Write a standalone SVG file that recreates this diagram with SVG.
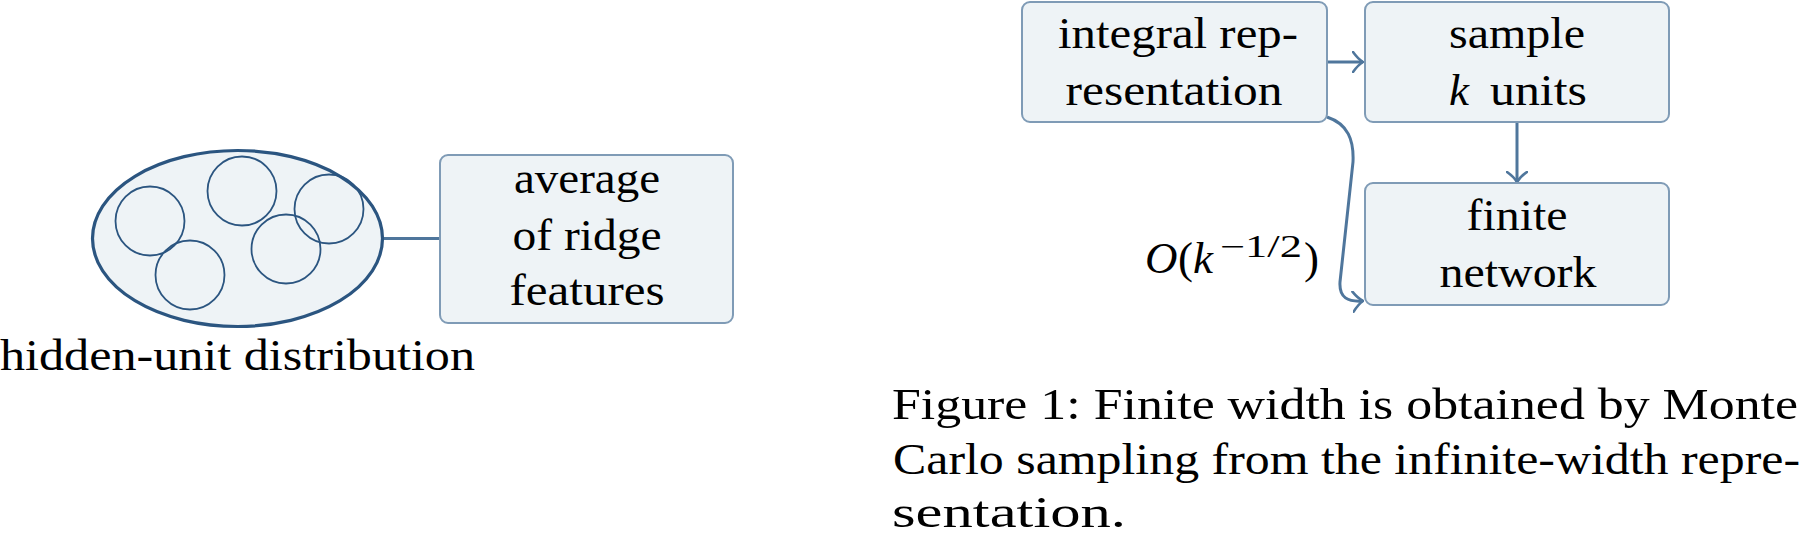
<svg xmlns="http://www.w3.org/2000/svg" width="1803" height="539" viewBox="0 0 1803 539">
<defs>
<style>
text{font-family:'Liberation Serif','DejaVu Serif',serif;font-size:45px;fill:#000}
.c{text-anchor:middle}
.box{fill:#eef3f6;stroke:#7f9bb6;stroke-width:2}
.unit{fill:none;stroke:#2b5580;stroke-width:1.8}
.edge{fill:none;stroke:#4f769c;stroke-width:3}
.it{font-style:italic}
.sup{font-size:31px}
</style>
<marker id="arr" viewBox="0 0 12 22" refX="11" refY="11" markerWidth="12" markerHeight="22" markerUnits="userSpaceOnUse" orient="auto">
<path d="M1,1 Q6,8 11,11 Q6,14 1,21" fill="none" stroke="#4f769c" stroke-width="2.6" stroke-linecap="round"/>
</marker>
</defs>
<rect width="1803" height="539" fill="#fff"/>
<g id="connectors">
<line class="edge" x1="383" y1="238.5" x2="440" y2="238.5"/>
<line class="edge" x1="1327" y1="62" x2="1363" y2="62" marker-end="url(#arr)"/>
<line class="edge" x1="1517" y1="122" x2="1517" y2="182" marker-end="url(#arr)"/>
<path class="edge" d="M1327,117 C1348,124 1354,140 1353,162 L1340,282 C1339,298 1348,302 1363,301" marker-end="url(#arr)"/>
</g>
<g id="distribution">
<ellipse cx="237.5" cy="238.5" rx="145" ry="88" fill="#eef3f6" stroke="#2b5580" stroke-width="3.2"/>
<circle class="unit" cx="150" cy="221" r="34.5"/>
<circle class="unit" cx="242" cy="191" r="34.5"/>
<circle class="unit" cx="329" cy="209" r="34.5"/>
<circle class="unit" cx="286" cy="249" r="34.5"/>
<circle class="unit" cx="190" cy="275" r="34.5"/>
<text x="0" y="370" font-family="Liberation Serif, serif" textLength="475" lengthAdjust="spacingAndGlyphs">hidden-unit distribution</text>
</g>
<g id="average">
<rect class="box" x="440" y="155" width="293" height="168" rx="8"/>
<text class="c" x="587" y="193" textLength="146" lengthAdjust="spacingAndGlyphs">average</text>
<text class="c" x="587" y="250" textLength="149" lengthAdjust="spacingAndGlyphs">of ridge</text>
<text class="c" x="587" y="305" textLength="155" lengthAdjust="spacingAndGlyphs">features</text>
</g>
<g id="integral">
<rect class="box" x="1022" y="2" width="305" height="120" rx="8"/>
<text class="c" x="1178" y="48" textLength="240" lengthAdjust="spacingAndGlyphs">integral rep-</text>
<text class="c" x="1174" y="105" textLength="217" lengthAdjust="spacingAndGlyphs">resentation</text>
</g>
<g id="sample">
<rect class="box" x="1365" y="2" width="304" height="120" rx="8"/>
<text class="c" x="1517" y="48" textLength="136" lengthAdjust="spacingAndGlyphs">sample</text>
<text x="1449" y="105"><tspan class="it">k</tspan><tspan x="1490" textLength="97" lengthAdjust="spacingAndGlyphs">units</tspan></text>
</g>
<g id="finite">
<rect class="box" x="1365" y="183" width="304" height="122" rx="8"/>
<text class="c" x="1517" y="230" textLength="101" lengthAdjust="spacingAndGlyphs">finite</text>
<text class="c" x="1518" y="287" textLength="157" lengthAdjust="spacingAndGlyphs">network</text>
</g>
<g id="rate-label">
<text x="1145" y="273" class="it">O</text>
<text x="1178" y="273">(</text>
<text x="1193" y="273" class="it">k</text>
<text x="1220" y="257" class="sup" textLength="82" lengthAdjust="spacingAndGlyphs">−1/2</text>
<text x="1304" y="273">)</text>
</g>
<g id="caption">
<text x="892" y="419" textLength="906" lengthAdjust="spacingAndGlyphs">Figure 1: Finite width is obtained by Monte</text>
<text x="893" y="474" textLength="907" lengthAdjust="spacingAndGlyphs">Carlo sampling from the infinite-width repre-</text>
<text x="892" y="527" textLength="234" lengthAdjust="spacingAndGlyphs">sentation.</text>
</g>
</svg>
